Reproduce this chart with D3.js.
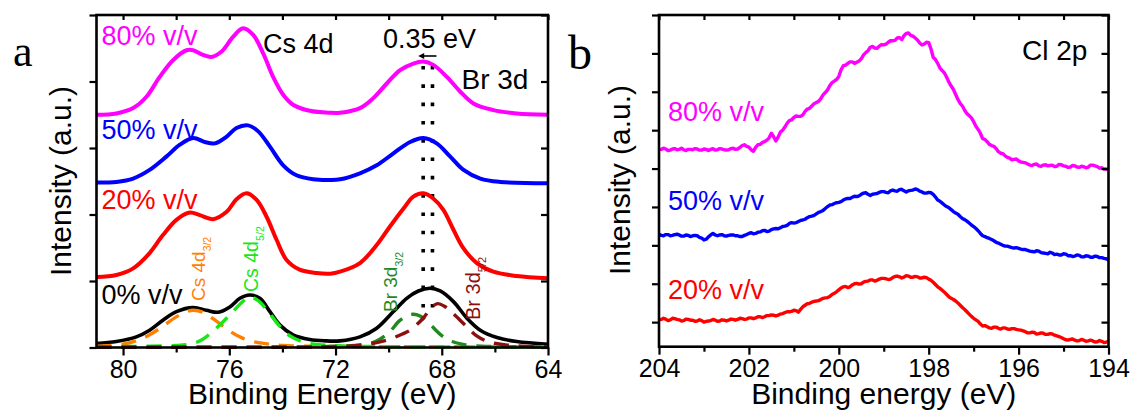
<!DOCTYPE html>
<html>
<head>
<meta charset="utf-8">
<script src="https://cdn.jsdelivr.net/npm/d3@7"></script>
<style>
  body { margin: 0; background: #fff; }
  svg { display: block; }
  text { font-family: Arial, "Liberation Sans", sans-serif; }
</style>
</head>
<body>
<svg id="chart" width="1133" height="412"></svg>
<script>
// ---------- Panel a: Cs 4d / Br 3d spectra, [binding energy (eV), intensity] ----------
const spectrum80 = [[81.0,3.50],[80.25,3.52],[79.62,3.60],[79.12,3.77],[78.62,4.07],[78.12,4.32],[77.61,4.47],[77.36,4.47],[76.99,4.40],[76.67,4.37],[76.29,4.45],[75.86,4.67],[75.48,4.80],[75.10,4.70],[74.72,4.42],[74.35,4.07],[73.97,3.80],[73.60,3.65],[72.97,3.56],[72.2,3.53],[71.83,3.53],[71.08,3.60],[70.58,3.75],[70.07,3.97],[69.57,4.17],[69.07,4.27],[68.69,4.30],[68.32,4.25],[67.81,4.07],[67.31,3.85],[66.81,3.67],[66.06,3.57],[65.18,3.52],[64.0,3.50]];
const spectrum50 = [[81.0,2.48],[80.25,2.49],[79.62,2.54],[79.0,2.67],[78.37,2.87],[77.86,3.05],[77.36,3.15],[76.92,3.09],[76.54,3.07],[76.1,3.17],[75.73,3.30],[75.29,3.34],[74.91,3.25],[74.47,3.02],[73.97,2.74],[73.47,2.59],[72.84,2.53],[72.2,2.52],[71.83,2.53],[71.08,2.62],[70.45,2.74],[69.82,2.92],[69.19,3.09],[68.69,3.15],[68.19,3.07],[67.68,2.87],[67.18,2.67],[66.55,2.54],[65.8,2.49],[64.0,2.47]];
const spectrum20 = [[81.0,1.06],[80.25,1.09],[79.62,1.19],[79.0,1.42],[78.5,1.69],[77.99,1.92],[77.49,2.03],[77.11,1.99],[76.61,1.93],[76.1,2.04],[75.73,2.23],[75.35,2.32],[74.97,2.22],[74.6,1.97],[74.22,1.62],[73.85,1.32],[73.35,1.17],[72.72,1.12],[72.2,1.11],[71.83,1.14],[71.08,1.27],[70.45,1.54],[69.95,1.82],[69.44,2.09],[69.07,2.27],[68.69,2.32],[68.32,2.24],[67.94,2.07],[67.56,1.77],[67.18,1.49],[66.68,1.27],[66.06,1.14],[65.18,1.075],[64.0,1.04]];
const spectrum0 = [[81.0,0.06],[80.25,0.09],[79.5,0.16],[79.0,0.26],[78.5,0.41],[77.99,0.54],[77.36,0.60],[76.86,0.56],[76.42,0.53],[75.98,0.61],[75.6,0.74],[75.23,0.79],[74.85,0.74],[74.47,0.54],[74.1,0.34],[73.6,0.19],[72.97,0.12],[72.4,0.10],[71.83,0.10],[71.08,0.16],[70.45,0.29],[69.82,0.54],[69.32,0.74],[68.88,0.85],[68.44,0.89],[68.06,0.85],[67.56,0.69],[67.05,0.44],[66.55,0.26],[65.92,0.15],[65.18,0.09],[64.0,0.05]];

// fitted components of the 0% v/v spectrum
const fitCs32 = [[81,0.02],[80,0.05],[79.5,0.10],[79,0.19],[78.5,0.32],[78,0.46],[77.6,0.54],[77.35,0.56],[77.0,0.53],[76.5,0.40],[76.0,0.25],[75.5,0.14],[75.0,0.08],[74.5,0.05],[74,0.03],[73,0.02],[72,0.015],[64,0.01]];
const fitCs52 = [[81,0.01],[79,0.02],[78,0.03],[77.5,0.05],[77.1,0.10],[76.6,0.25],[76.0,0.48],[75.6,0.65],[75.25,0.76],[74.9,0.70],[74.5,0.52],[74.1,0.32],[73.7,0.17],[73.2,0.08],[72.5,0.04],[71.5,0.02],[64,0.01]];
const fitBr32 = [[81,0.005],[73,0.01],[72,0.02],[71,0.04],[70.5,0.09],[70,0.22],[69.6,0.40],[69.3,0.48],[69.05,0.50],[68.8,0.47],[68.4,0.33],[68.0,0.18],[67.6,0.09],[67.1,0.04],[66.5,0.02],[64,0.01]];
const fitBr52 = [[81,0.005],[72,0.01],[71.5,0.02],[71,0.04],[70.5,0.07],[70,0.12],[69.5,0.20],[69.2,0.26],[68.7,0.44],[68.4,0.60],[68.15,0.66],[67.9,0.62],[67.6,0.52],[67.1,0.33],[66.7,0.18],[66.2,0.08],[65.6,0.04],[65,0.02],[64,0.01]];

// Br 3d peak positions marking the 0.35 eV shift
const shiftMarks = [68.70, 68.35];

const energyTicksA = [80, 76, 72, 68, 64];
const energyMinorA = [78, 74, 70, 66];
const intensityTicksA = [0, 1, 2, 3, 4, 5];

// ---------- Panel b: Cl 2p spectra, sampled every 0.05 eV from 204 eV down to 194 eV ----------
const clStart = 204, clStep = 0.05;
const cl80 = [4.49,4.50,4.53,4.51,4.47,4.48,4.51,4.52,4.49,4.50,
  4.53,4.49,4.47,4.50,4.50,4.49,4.52,4.51,4.48,4.48,
  4.51,4.50,4.47,4.50,4.52,4.48,4.49,4.52,4.51,4.49,
  4.48,4.49,4.52,4.53,4.50,4.51,4.55,4.60,4.62,4.58,
  4.56,4.49,4.45,4.55,4.62,4.63,4.68,4.70,4.74,4.80,
  4.92,4.83,4.72,4.82,4.95,5.00,5.08,5.18,5.25,5.27,
  5.33,5.37,5.36,5.36,5.40,5.49,5.55,5.57,5.63,5.69,
  5.72,5.75,5.82,5.92,5.98,6.05,6.16,6.24,6.28,6.32,
  6.40,6.57,6.68,6.69,6.74,6.78,6.78,6.74,6.77,6.80,
  6.86,6.96,7.02,7.07,7.16,7.18,7.14,7.13,7.19,7.23,
  7.22,7.24,7.29,7.33,7.33,7.34,7.40,7.41,7.36,7.46,
  7.52,7.53,7.47,7.45,7.40,7.35,7.27,7.22,7.24,7.29,
  7.28,7.12,6.90,6.84,6.74,6.62,6.55,6.49,6.38,6.25,
  6.15,6.06,5.93,5.80,5.70,5.63,5.52,5.43,5.38,5.32,
  5.22,5.10,5.02,4.92,4.78,4.76,4.70,4.63,4.60,4.58,
  4.52,4.44,4.40,4.39,4.33,4.29,4.27,4.23,4.24,4.25,
  4.20,4.17,4.16,4.15,4.12,4.09,4.08,4.11,4.12,4.07,
  4.06,4.09,4.10,4.07,4.08,4.09,4.05,4.06,4.11,4.10,
  4.07,4.06,4.03,4.04,4.08,4.07,4.04,4.03,4.06,4.05,
  4.02,4.04,4.09,4.09,4.07,4.05,4.01,4.02,3.99,3.99,
  3.96];
const cl50 = [2.29,2.26,2.25,2.28,2.28,2.25,2.26,2.28,2.29,2.27,
  2.24,2.24,2.27,2.26,2.23,2.25,2.26,2.25,2.21,2.19,
  2.14,2.16,2.22,2.27,2.31,2.27,2.25,2.27,2.28,2.25,
  2.24,2.26,2.27,2.27,2.25,2.25,2.23,2.23,2.26,2.28,
  2.31,2.33,2.30,2.31,2.34,2.35,2.38,2.39,2.36,2.37,
  2.41,2.43,2.44,2.43,2.46,2.49,2.50,2.52,2.57,2.59,
  2.58,2.59,2.62,2.65,2.66,2.68,2.72,2.75,2.76,2.78,
  2.82,2.86,2.88,2.91,2.96,3.01,3.05,3.06,3.09,3.11,
  3.12,3.14,3.18,3.21,3.22,3.22,3.25,3.28,3.27,3.29,
  3.33,3.36,3.37,3.33,3.30,3.33,3.34,3.35,3.38,3.40,
  3.40,3.38,3.37,3.42,3.44,3.42,3.41,3.45,3.46,3.42,
  3.39,3.42,3.43,3.44,3.47,3.45,3.41,3.39,3.36,3.36,
  3.38,3.37,3.33,3.26,3.18,3.15,3.10,3.05,3.01,2.98,
  2.93,2.88,2.84,2.81,2.75,2.70,2.67,2.63,2.58,2.53,
  2.49,2.44,2.38,2.31,2.25,2.23,2.20,2.18,2.15,2.12,
  2.08,2.06,2.03,2.00,1.98,1.98,1.96,1.94,1.93,1.94,
  1.92,1.90,1.89,1.89,1.87,1.85,1.84,1.83,1.86,1.85,
  1.81,1.80,1.79,1.78,1.82,1.80,1.76,1.77,1.75,1.75,
  1.78,1.77,1.73,1.73,1.71,1.72,1.75,1.74,1.70,1.70,
  1.73,1.72,1.69,1.69,1.72,1.71,1.68,1.68,1.66,1.65,
  1.62];
const cl20 = [0.06,0.07,0.10,0.08,0.04,0.06,0.10,0.09,0.07,0.06,
  0.03,0.04,0.08,0.07,0.05,0.05,0.02,0.03,0.06,0.04,
  0.00,0.02,0.03,0.04,0.07,0.05,0.02,0.03,0.06,0.05,
  0.03,0.05,0.08,0.07,0.05,0.07,0.10,0.09,0.07,0.08,
  0.11,0.11,0.09,0.11,0.14,0.14,0.12,0.14,0.17,0.17,
  0.19,0.18,0.16,0.18,0.21,0.22,0.25,0.27,0.27,0.28,
  0.31,0.30,0.26,0.33,0.40,0.44,0.48,0.49,0.52,0.54,
  0.55,0.56,0.59,0.62,0.63,0.64,0.67,0.72,0.75,0.79,
  0.84,0.89,0.92,0.93,0.90,0.92,0.97,1.00,1.01,0.99,
  1.00,1.04,1.06,1.07,1.10,1.10,1.07,1.09,1.12,1.14,
  1.14,1.13,1.11,1.12,1.16,1.19,1.20,1.18,1.15,1.17,
  1.21,1.20,1.17,1.17,1.19,1.18,1.15,1.15,1.17,1.16,
  1.12,1.09,1.04,0.98,0.92,0.88,0.83,0.78,0.72,0.66,
  0.62,0.59,0.55,0.50,0.44,0.38,0.33,0.27,0.21,0.15,
  0.10,0.06,0.02,-0.05,-0.10,-0.09,-0.12,-0.15,-0.16,-0.13,
  -0.13,-0.16,-0.18,-0.15,-0.15,-0.18,-0.19,-0.17,-0.17,-0.19,
  -0.20,-0.21,-0.23,-0.25,-0.28,-0.28,-0.26,-0.27,-0.31,-0.30,
  -0.28,-0.29,-0.32,-0.32,-0.30,-0.31,-0.34,-0.36,-0.38,-0.40,
  -0.43,-0.46,-0.47,-0.45,-0.44,-0.47,-0.49,-0.48,-0.45,-0.47,
  -0.50,-0.49,-0.47,-0.49,-0.52,-0.51,-0.48,-0.50,-0.53,-0.52,
  -0.50];

const energyTicksB = [204, 202, 200, 198, 196, 194];
const energyMinorB = [203, 201, 199, 197, 195];
const intensityTicksB = [0, 1, 2, 3, 4, 5, 6, 7, 8];

const svg = d3.select("#chart");

// ---------- shared helpers ----------
function frame(g, x, y) {
  const [x0, x1] = x.range(), [y0, y1] = y.range();
  g.append("rect")
    .attr("x", x0).attr("y", y1)
    .attr("width", x1 - x0).attr("height", y0 - y1)
    .attr("fill", "none").attr("stroke", "#000").attr("stroke-width", 2.6);
}

function styleAxis(sel, showText) {
  sel.select(".domain").remove();
  sel.selectAll(".tick line").attr("stroke", "#000").attr("stroke-width", 2.2);
  if (!showText) sel.selectAll(".tick text").remove();
  else sel.selectAll(".tick text").attr("fill", "#000").style("font-size", "25px")
      .style("font-family", "Arial, 'Liberation Sans', sans-serif");
}

function axes(g, x, y, major, minor, yTicks) {
  const [x0, x1] = x.range(), [y0, y1] = y.range();
  // bottom: outward major ticks with labels, shorter minor ticks
  g.append("g").attr("transform", `translate(0,${y0})`)
    .call(d3.axisBottom(x).tickValues(major).tickSize(8).tickPadding(5).tickFormat(d3.format("d")))
    .call(s => styleAxis(s, true));
  g.append("g").attr("transform", `translate(0,${y0})`)
    .call(d3.axisBottom(x).tickValues(minor).tickSize(5))
    .call(s => styleAxis(s, false));
  // top: inward ticks
  g.append("g").attr("transform", `translate(0,${y1})`)
    .call(d3.axisTop(x).tickValues(major.concat(minor)).tickSize(-5))
    .call(s => styleAxis(s, false));
  // left: outward, right: inward
  g.append("g").attr("transform", `translate(${x0},0)`)
    .call(d3.axisLeft(y).tickValues(yTicks).tickSize(7))
    .call(s => styleAxis(s, false));
  g.append("g").attr("transform", `translate(${x1},0)`)
    .call(d3.axisRight(y).tickValues(yTicks).tickSize(-7))
    .call(s => styleAxis(s, false));
}

function label(g, x, y, txt, color, size) {
  return g.append("text").attr("x", x).attr("y", y)
    .attr("fill", color).style("font-size", size + "px").text(txt);
}

// ---------- Panel a ----------
const xA = d3.scaleLinear().domain([81, 64]).range([96.5, 548]);
const yA = d3.scaleLinear().domain([0, 5]).range([347.5, 15]);
const gA = svg.append("g");

const smooth = d3.line()
  .x(d => xA(d[0])).y(d => yA(d[1]))
  .curve(d3.curveCatmullRom.alpha(0.5));

// dotted guides at the Br 3d peak positions
shiftMarks.forEach(e => {
  gA.append("line")
    .attr("x1", xA(e)).attr("x2", xA(e))
    .attr("y1", 66).attr("y2", 312)
    .attr("stroke", "#000").attr("stroke-width", 3.6)
    .attr("stroke-dasharray", "3.6,14.7");
});

[[spectrum80, "#ff00ff"], [spectrum50, "#0000ff"], [spectrum20, "#ff0000"], [spectrum0, "#000000"]]
  .forEach(([data, color]) => {
    gA.append("path").datum(data).attr("d", smooth)
      .attr("fill", "none").attr("stroke", color)
      .attr("stroke-width", color === "#000000" ? 3.6 : 4)
      .attr("stroke-linejoin", "round");
  });

[[fitCs32, "#ff8000"], [fitCs52, "#19e619"], [fitBr32, "#1f8a1f"], [fitBr52, "#8b1010"]]
  .forEach(([data, color]) => {
    gA.append("path").datum(data).attr("d", smooth)
      .attr("fill", "none").attr("stroke", color)
      .attr("stroke-width", 3.4).attr("stroke-dasharray", "15,10");
  });

frame(gA, xA, yA);
axes(gA, xA, yA, energyTicksA, energyMinorA, intensityTicksA);

// shift arrow between the two guides
{
  const xr = xA(shiftMarks[1]) + 4, xl = xA(shiftMarks[0]) - 5, ya = 56;
  gA.append("line").attr("x1", xr).attr("x2", xl + 4).attr("y1", ya).attr("y2", ya)
    .attr("stroke", "#000").attr("stroke-width", 1.6);
  gA.append("path")
    .attr("d", `M${xl},${ya} L${xl + 6},${ya - 3} L${xl + 6},${ya + 3} Z`)
    .attr("fill", "#000");
}

label(gA, 101.5, 45, "80% v/v", "#ff00ff", 27);
label(gA, 101.5, 138.5, "50% v/v", "#0000ff", 27);
label(gA, 101.5, 209, "20% v/v", "#ff0000", 27);
label(gA, 101.5, 303.5, "0% v/v", "#000", 27);
label(gA, 263, 52.5, "Cs 4d", "#000", 27);
label(gA, 383, 48, "0.35 eV", "#000", 27);
label(gA, 461.5, 88.5, "Br 3d", "#000", 28);

function peakLabel(g, x, y, main, sub, color, size) {
  const t = g.append("text")
    .attr("transform", `translate(${x},${y}) rotate(-90)`)
    .attr("fill", color).style("font-size", size + "px");
  t.append("tspan").text(main);
  t.append("tspan").attr("dy", 6).style("font-size", (size * 0.55) + "px").text(sub);
}
peakLabel(gA, 205, 301, "Cs 4d", "3/2", "#ff8000", 19);
peakLabel(gA, 258, 292, "Cs 4d", "5/2", "#19e619", 19.5);
peakLabel(gA, 397, 312, "Br 3d", "3/2", "#1f8a1f", 19);
peakLabel(gA, 480, 320, "Br 3d", "5/2", "#8b1010", 20);

gA.append("text")
  .attr("transform", `translate(71,181) rotate(-90)`)
  .attr("text-anchor", "middle").style("font-size", "30px").attr("fill", "#000")
  .text("Intensity (a.u.)");
gA.append("text").attr("x", (xA.range()[0] + xA.range()[1]) / 2).attr("y", 404)
  .attr("text-anchor", "middle").style("font-size", "30px").attr("fill", "#000")
  .text("Binding Energy (eV)");
gA.append("text").attr("x", 13).attr("y", 66)
  .style("font-family", "'Liberation Serif', 'Times New Roman', serif")
  .style("font-size", "44px").attr("fill", "#000").text("a");

// ---------- Panel b ----------
const xB = d3.scaleLinear().domain([204, 194]).range([659, 1108.5]);
const yB = d3.scaleLinear().domain([-0.64, 8]).range([346.7, 15]);
const gB = svg.append("g");

const raw = d3.line()
  .x((d, i) => xB(clStart - i * clStep)).y(d => yB(d));

[[cl80, "#ff00ff"], [cl50, "#0000ff"], [cl20, "#ff0000"]].forEach(([data, color]) => {
  gB.append("path").datum(data).attr("d", raw)
    .attr("fill", "none").attr("stroke", color)
    .attr("stroke-width", 3.4).attr("stroke-linejoin", "round");
});

frame(gB, xB, yB);
axes(gB, xB, yB, energyTicksB, energyMinorB, intensityTicksB);

label(gB, 668, 120.5, "80% v/v", "#ff00ff", 27);
label(gB, 668, 210, "50% v/v", "#0000ff", 27);
label(gB, 668, 298.5, "20% v/v", "#ff0000", 27);
label(gB, 1022, 60, "Cl 2p", "#000", 28);

gB.append("text")
  .attr("transform", `translate(630,180) rotate(-90)`)
  .attr("text-anchor", "middle").style("font-size", "30px").attr("fill", "#000")
  .text("Intensity (a.u.)");
gB.append("text").attr("x", (xB.range()[0] + xB.range()[1]) / 2).attr("y", 404)
  .attr("text-anchor", "middle").style("font-size", "30px").attr("fill", "#000")
  .text("Binding energy (eV)");
gB.append("text").attr("x", 568).attr("y", 69)
  .style("font-family", "'Liberation Serif', 'Times New Roman', serif")
  .style("font-size", "48px").attr("fill", "#000").text("b");
</script>
</body>
</html>
